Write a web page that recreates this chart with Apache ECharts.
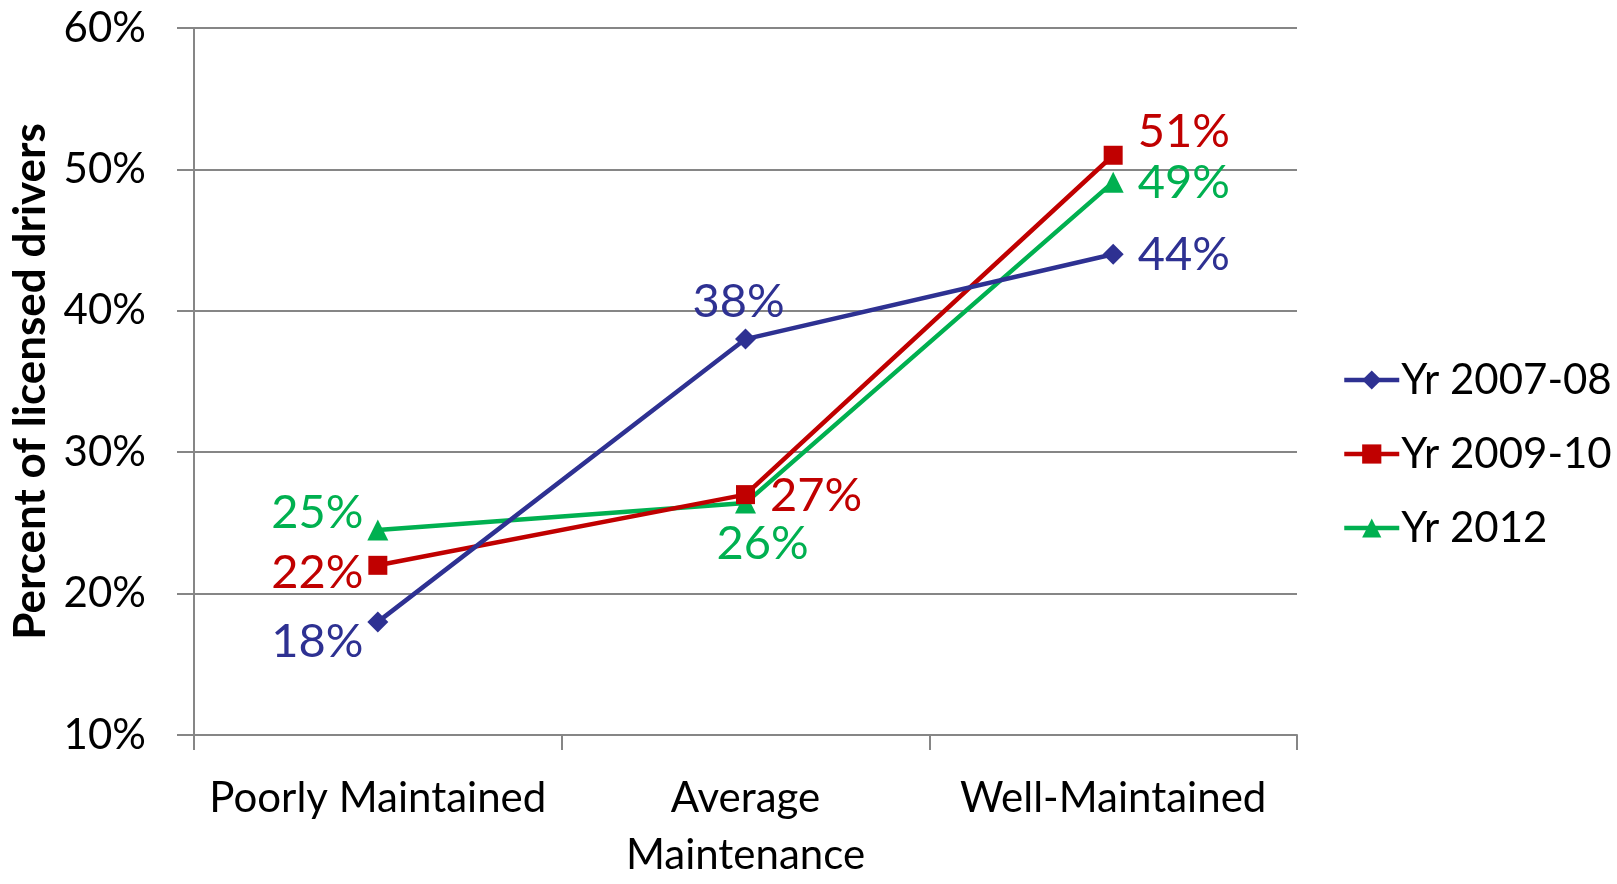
<!DOCTYPE html>
<html><head><meta charset="utf-8">
<script src="https://cdn.jsdelivr.net/npm/echarts@6/dist/echarts.min.js"></script>
<style>html,body{margin:0;padding:0;background:#fff}#c{width:1617px;height:884px}</style>
</head><body><div id="c"></div>
<script>
const categories = ['Poorly Maintained', 'Average\nMaintenance', 'Well-Maintained'];
const yTicks = [10, 20, 30, 40, 50, 60];
const seriesNames = ['Yr 2007-08', 'Yr 2009-10', 'Yr 2012'];
const yr0708 = [18, 38, 44];
const yr0910 = [22, 27, 51];
const yr2012 = [24.5, 26.4, 49.1];

const FONT = 'Lato';
const FS = 42;
const LFS = 47;
const colors = ['#2E3192', '#C00000', '#00B050'];
const symbols = ['diamond', 'rect', 'triangle'];
const symSizes = [21, 19, 21];
const labelPos = [
  [{position:'left',distance:4,offset:[0,20]},{position:'top',distance:3,offset:[-7,0]},{position:'right',distance:14,offset:[0,1]}],
  [{position:'left',distance:5,offset:[0,8]},{position:'right',distance:15,offset:[0,1]},{position:'right',distance:15,offset:[0,-23]}],
  [{position:'left',distance:4,offset:[0,-17]},{position:'bottom',distance:7,offset:[17,0]},{position:'right',distance:14,offset:[0,1]}]
];
const allData = [yr0708, yr0910, yr2012];

const chart = echarts.init(document.getElementById('c'));
chart.setOption({
  animation: false,
  textStyle: {fontFamily: FONT},
  grid: {left: 194, right: 320, top: 28, bottom: 135, containLabel: false},
  legend: {
    orient: 'vertical', left: 1337, top: 354,
    itemWidth: 55, itemHeight: 24, itemGap: 32,
    lineStyle: {width: 4.5},
    textStyle: {fontFamily: FONT, fontSize: FS, color: '#000', lineHeight: 42, padding:[0,0,0,-3]},
    data: seriesNames
  },
  xAxis: {
    type: 'category', data: categories, boundaryGap: true,
    axisLine: {lineStyle: {color: '#868686', width: 2}},
    axisTick: {show: true, length: 15, lineStyle: {color: '#868686', width: 2}},
    axisLabel: {fontFamily: FONT, fontSize: FS, color: '#000', margin: 35, lineHeight: 57, interval: 0}
  },
  yAxis: {
    type: 'value', min: 10, max: 60, interval: 10,
    name: 'Percent of licensed drivers', nameLocation: 'middle', nameGap: 140,
    nameTextStyle: {fontFamily: FONT, fontSize: 44, fontWeight: 'bold', color: '#000'},
    axisLine: {show: true, lineStyle: {color: '#868686', width: 2}},
    axisTick: {show: true, length: 17, lineStyle: {color: '#868686', width: 2}},
    splitLine: {show: true, lineStyle: {color: '#868686', width: 2}},
    axisLabel: {fontFamily: FONT, fontSize: FS, color: '#000', margin: 48, formatter: v => v + '%'}
  },
  series: seriesNames.map((name, s) => ({
    name, type: 'line',
    data: allData[s].map((v, i) => ({
      value: v,
      label: Object.assign({show: true, color: colors[s], fontFamily: FONT, fontSize: LFS,
        formatter: p => Math.round(p.value) + '%'}, labelPos[s][i])
    })),
    symbol: symbols[s], symbolSize: symSizes[s], showAllSymbol: true,
    itemStyle: {color: colors[s]},
    lineStyle: {color: colors[s], width: 4.5},
    z: 3 + (2 - s)
  }))
});
</script></body></html>
